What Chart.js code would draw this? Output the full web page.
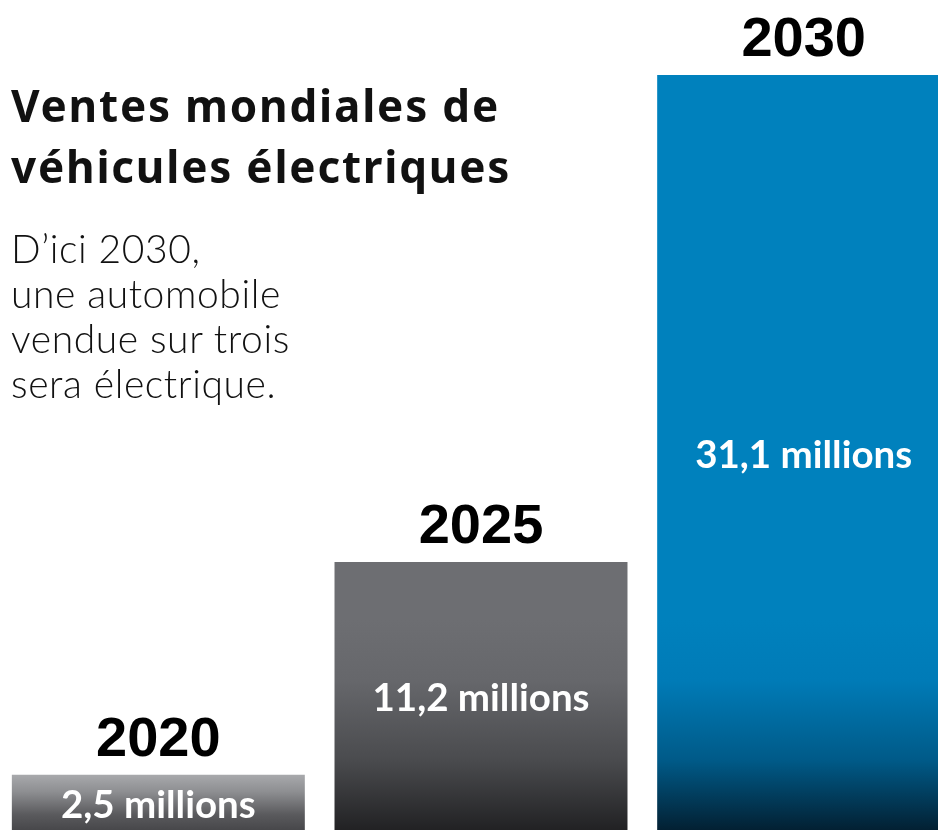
<!DOCTYPE html>
<html>
<head>
<meta charset="utf-8">
<script src="https://cdn.jsdelivr.net/npm/chart.js@4"></script>
<style>
  html, body { margin: 0; padding: 0; background: #fff; overflow: hidden; width: 938px; height: 830px; }
  #wrap { position: relative; width: 938px; height: 830px; overflow: hidden; }
  #cnv { position: absolute; left: -3px; top: 0; }
  #title { position: absolute; left: 11px; top: 75px; font-family: 'Noto Sans', sans-serif; font-weight: 700;
           font-size: 44px; line-height: 61px; color: #111; letter-spacing: 1.8px; }
  #sub { position: absolute; left: 11px; top: 226px; font-family: 'Lato', sans-serif; font-weight: 300;
         font-size: 39px; line-height: 45px; color: #111; letter-spacing: 0.6px; }
</style>
</head>
<body>
<div id="wrap">
  <canvas id="cnv" width="968" height="836"></canvas>
  <div id="title">Ventes mondiales de<br>véhicules électriques</div>
  <div id="sub">D’ici 2030,<br>une automobile<br>vendue sur trois<br>sera électrique.</div>
</div>
<script>
// data
var years = ['2020', '2025', '2030'];
var sales = [2.5, 11.2, 31.1];            // millions
var valueLabels = ['2,5 millions', '11,2 millions', '31,1 millions'];
// colour ramps, light at top, dark at the bottom
var ramps = [
    ['#a8a9ac', '#8d8e91', '#5a5a5d', '#404043'],
    ['#6d6e72', '#66676b', '#4a4b4e', '#1e1e20'],
    ['#0081bd', '#007bb7', '#005a88', '#031b2b']
];

var ctx = document.getElementById('cnv').getContext('2d');

function barFill(c) {
    var chart = c.chart;
    var area = chart.chartArea;
    if (!area || c.dataIndex === undefined) return ramps[0][0];
    var i = c.dataIndex;
    var top = chart.scales.y.getPixelForValue(sales[i]);
    var start = Math.max(top, 620);
    var g = chart.ctx.createLinearGradient(0, start, 0, area.bottom);
    var r = ramps[i];
    g.addColorStop(0, r[0]);
    g.addColorStop(0.28, r[1]);
    g.addColorStop(0.65, r[2]);
    g.addColorStop(1, r[3]);
    return g;
}

var labelsPlugin = {
    id: 'barLabels',
    afterDatasetsDraw: function(chart) {
        var c = chart.ctx;
        var meta = chart.getDatasetMeta(0);
        c.save();
        c.textAlign = 'center';
        meta.data.forEach(function(bar, i) {
            c.fillStyle = '#000';
            c.font = 'bold 56px "Liberation Sans", Arial, sans-serif';
            c.textBaseline = 'alphabetic';
            c.fillText(years[i], bar.x, bar.y - 19);
            c.fillStyle = '#fff';
            c.font = 'bold 38.5px Lato, sans-serif';
            c.textBaseline = 'middle';
            c.fillText(valueLabels[i], bar.x, (bar.y + bar.base) / 2);
        });
        c.restore();
    }
};

var chart = new Chart(ctx, {
    type: 'bar',
    data: {
        labels: years,
        datasets: [{
            data: sales,
            backgroundColor: barFill,
            borderWidth: 0,
            categoryPercentage: 1,
            barPercentage: 0.908
        }]
    },
    options: {
        responsive: false,
        animation: false,
        layout: { padding: 0 },
        plugins: { legend: { display: false }, tooltip: { enabled: false } },
        scales: {
            x: { display: false },
            y: { display: false, min: 0, max: 34.17 }
        }
    },
    plugins: [labelsPlugin]
});
</script>
</body>
</html>
